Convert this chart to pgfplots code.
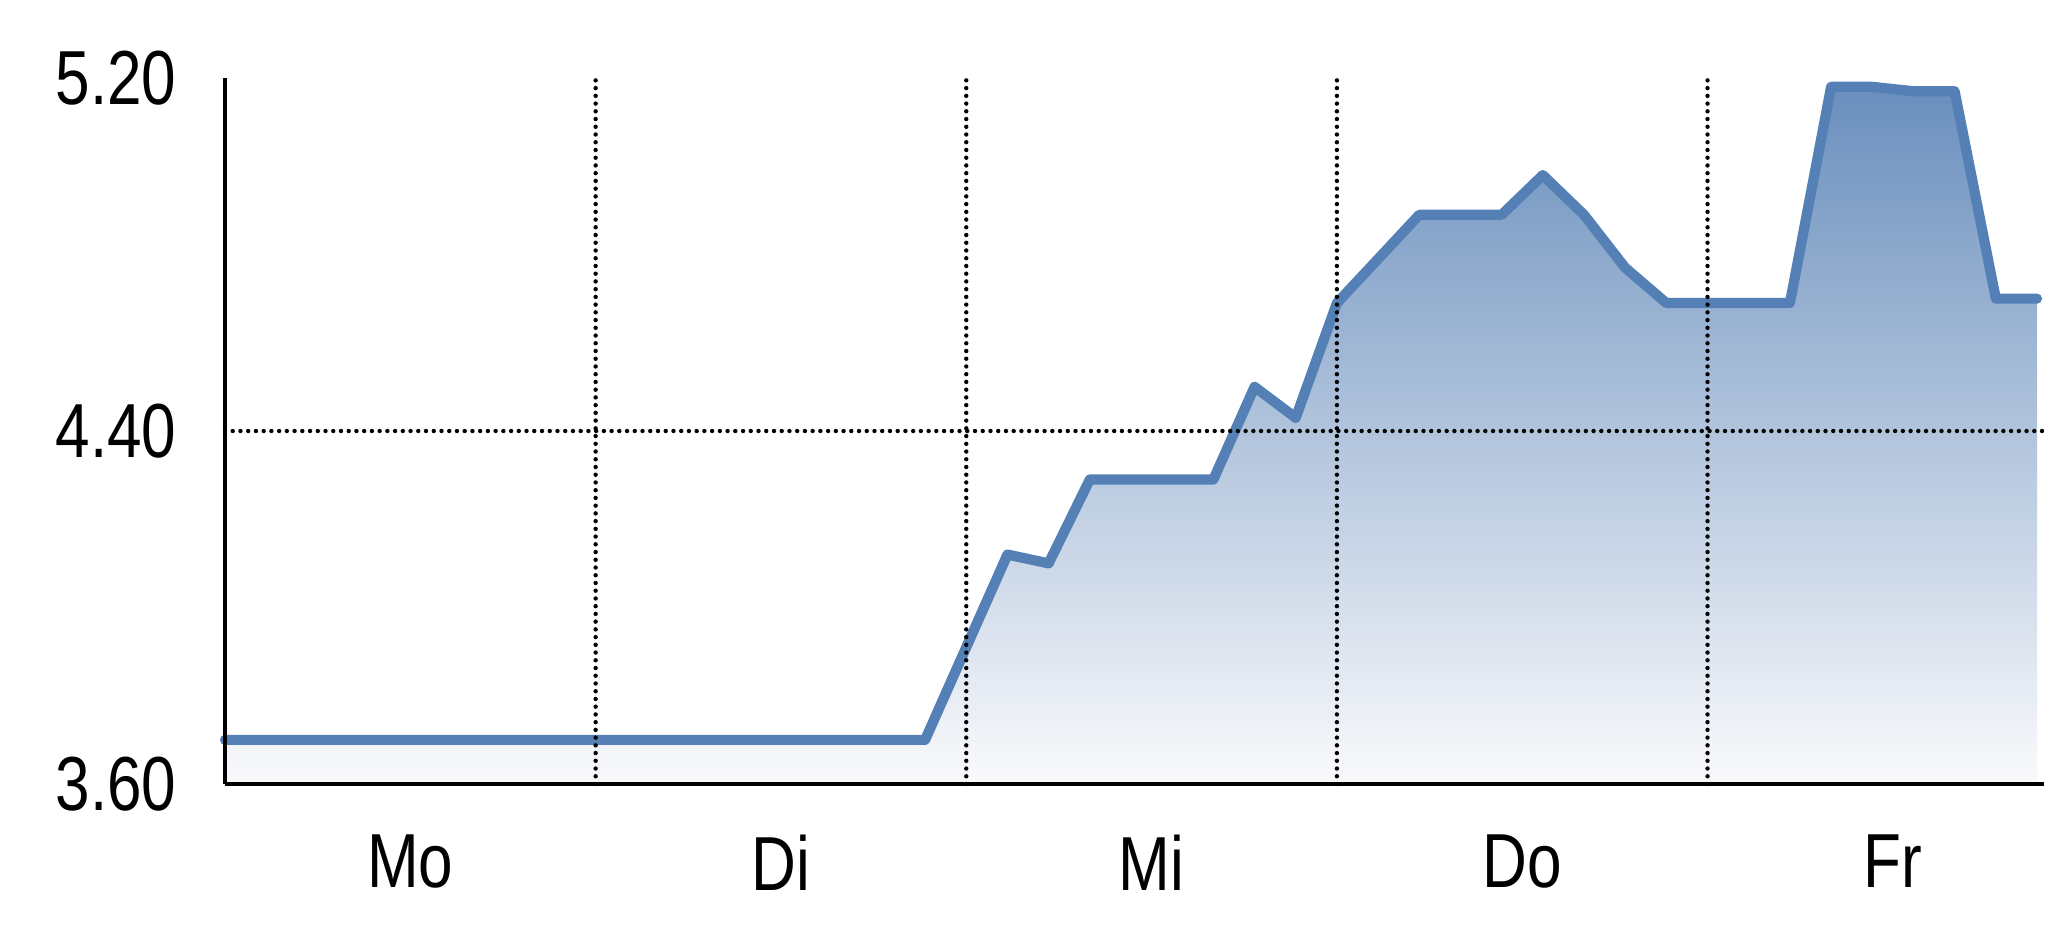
\documentclass[border=0pt]{standalone}
\usepackage{pgfplots}
\pgfplotsset{compat=1.18}
\usepackage{fontspec}
\setmainfont{Liberation Sans}[FakeStretch=0.81]
\definecolor{lineblue}{RGB}{84,128,182}
\definecolor{filltop}{RGB}{106,143,189}
\definecolor{fillbot}{RGB}{250,250,252}
\begin{document}
\fontsize{21.8pt}{26pt}\selectfont
\begin{tikzpicture}
\begin{axis}[
  scale only axis,
  width=18.19cm, height=7.06cm,
  xmin=0, xmax=44.17,
  ymin=3.6, ymax=5.2,
  axis x line*=bottom, axis y line*=left,
  axis line style={-, line width=0.9pt, black},
  axis on top=true,
  clip=false,
  major tick length=0pt,
  xtick={4.5,13.5,22.5,31.5,40.5},
  xticklabels={Mo,Di,Mi,Do,Fr},
  ytick={3.6,4.4,5.2},
  yticklabels={3.60,4.40,5.20},
  extra x ticks={9,18,27,36},
  extra x tick labels={},
  extra x tick style={grid=major, major tick length=0pt},
  extra y ticks={4.4},
  extra y tick labels={},
  extra y tick style={grid=major, major tick length=0pt},
  major grid style={black, line width=1.25pt, dash pattern=on 0pt off 2.2pt, line cap=round},
  xticklabel style={anchor=north, inner sep=0pt, yshift=-0.5cm, font=\fontsize{21.8pt}{26pt}\selectfont},
  yticklabel style={anchor=east, inner sep=0pt, xshift=-0.48cm, font=\fontsize{21.8pt}{26pt}\selectfont},
]
\addplot[draw=none, top color=filltop, bottom color=fillbot] table {
x y
0 3.70
17 3.70
18 3.91
19 4.12
20 4.10
21 4.29
22 4.29
23 4.29
24 4.29
25 4.50
26 4.43
27 4.69
28 4.79
29 4.89
30 4.89
31 4.89
32 4.98
33 4.89
34 4.77
35 4.69
36 4.69
37 4.69
38 4.69
39 5.18
40 5.18
41 5.17
42 5.17
43 4.70
44 4.70
} \closedcycle;
\addplot[lineblue, line width=2.9pt, line join=round, line cap=round, mark=none] table {
x y
0 3.70
17 3.70
18 3.91
19 4.12
20 4.10
21 4.29
22 4.29
23 4.29
24 4.29
25 4.50
26 4.43
27 4.69
28 4.79
29 4.89
30 4.89
31 4.89
32 4.98
33 4.89
34 4.77
35 4.69
36 4.69
37 4.69
38 4.69
39 5.18
40 5.18
41 5.17
42 5.17
43 4.70
44 4.70
};
\end{axis}
\path (current axis.south west) ++(-2.25cm,-1.53cm) rectangle ++(20.48cm,9.37cm);
\end{tikzpicture}
\end{document}
